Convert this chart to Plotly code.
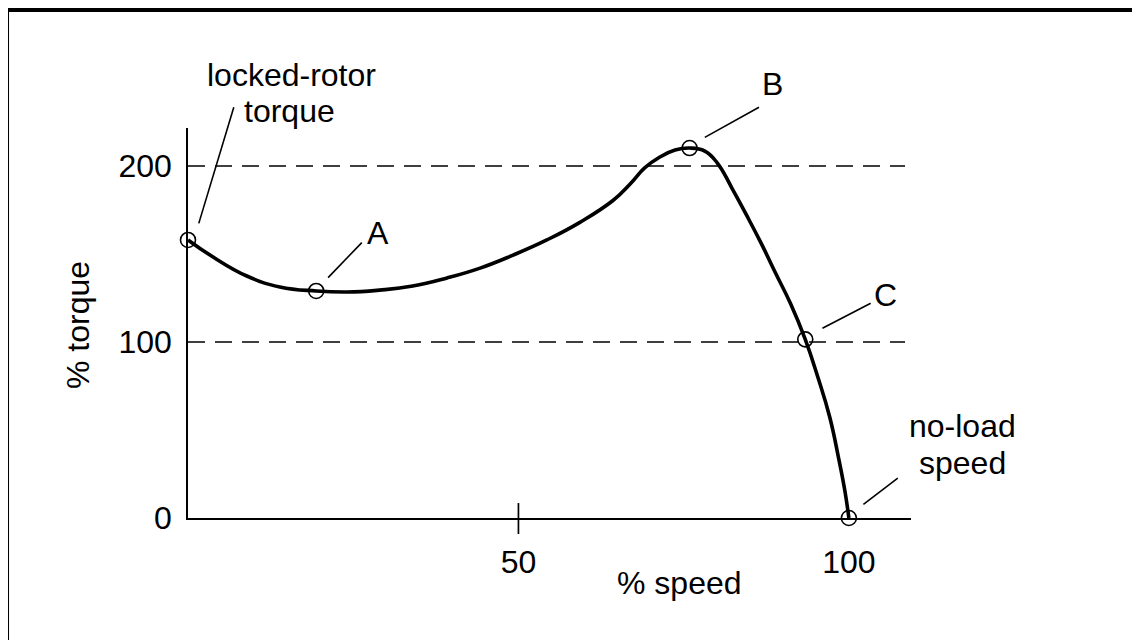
import plotly.graph_objects as go

# ---- data ----
speed = [0, 3.8, 8.9, 13.9, 19.4, 24.1, 29.0, 34.0, 39.2, 44.2, 49.2, 54.3, 59.3,
         64.3, 66.9, 69.1, 71.4, 73.7, 75.9, 78.2, 80.1, 82.3, 84.5, 86.7, 88.9,
         91.2, 93.4, 95.3, 97.1, 98.5, 99.4, 100]
torque = [158, 148.3, 137.5, 131.3, 129, 128.4, 129.5, 131.8, 136.4, 142, 149.4, 158, 168.0,
          180.4, 189.8, 198.9, 205.1, 209.1, 210.2, 208.5, 201.7, 187.5, 172.2, 156.3, 139.2,
          121.6, 101.5, 80.1, 57.4, 33.0, 15.3, 0]

point_names = ["locked-rotor", "A", "B", "C", "no-load"]
point_speed = [0, 19.4, 75.9, 93.4, 100]
point_torque = [158, 129, 210.2, 101.5, 0]

x_tick_vals = [50, 100]
x_tick_text = ["50", "100"]
y_tick_vals = [0, 100, 200]
y_tick_text = ["0", "100", "200"]
ref_levels = [100, 200]

X_MAX = 109.4
Y_MAX = 221.6
FONT = "Liberation Sans, Arial, Helvetica, sans-serif"
FS = 32

fig = go.Figure()

fig.add_trace(go.Scatter(
    x=speed, y=torque, mode="lines",
    line=dict(color="black", width=3.6, shape="spline", smoothing=1.3),
    hoverinfo="skip"))

fig.add_trace(go.Scatter(
    x=point_speed, y=point_torque, mode="markers", text=point_names,
    marker=dict(symbol="circle-open", size=15, color="black", line=dict(width=1.6, color="black")),
    cliponaxis=False))

# dashed reference lines
for lv in ref_levels:
    fig.add_shape(type="line", xref="x", yref="y", x0=0, x1=108.5, y0=lv, y1=lv,
                  line=dict(color="black", width=1.7, dash="17px,10px"), layer="below")


def px(v):
    return v / X_MAX


def py(v):
    return v / Y_MAX


# crossing tick mark at 50 %
fig.add_shape(type="line", xref="x", yref="paper", x0=50, x1=50, y0=py(-9.1), y1=py(8.5),
              line=dict(color="black", width=1.7))

# leader lines (data x, paper y so they are not clipped at the top)
leaders = [
    ((1.63, 167.4), (6.93, 233.4)),
    ((21.2, 136.6), (26.3, 156.5)),
    ((78.2, 216.3), (86.4, 233.4)),
    ((96.0, 107.8), (103.3, 122.0)),
    ((102.2, 7.8), (107.4, 22.6)),
]
for (xa, ya), (xb, yb) in leaders:
    fig.add_shape(type="line", xref="x", yref="paper", x0=xa, x1=xb, y0=py(ya), y1=py(yb),
                  line=dict(color="black", width=1.6))

labels = [
    ("locked-rotor", 15.7, 251.5),
    ("torque", 15.4, 231.0),
    ("A", 28.7, 161.8),
    ("B", 88.5, 246.4),
    ("C", 105.6, 126.5),
    ("no-load", 117.2, 52.5),
    ("speed", 117.2, 31.5),
]
for txt, lx, ly in labels:
    fig.add_annotation(x=px(lx), y=py(ly), xref="paper", yref="paper", text=txt, showarrow=False,
                       xanchor="center", yanchor="middle",
                       font=dict(size=FS, family=FONT, color="black"))

# axis titles
fig.add_annotation(x=0.68, y=-0.167, xref="paper", yref="paper", text="% speed", showarrow=False,
                   xanchor="center", yanchor="middle", font=dict(size=FS, family=FONT, color="black"))
fig.add_annotation(x=-0.152, y=0.495, xref="paper", yref="paper", text="% torque", showarrow=False,
                   textangle=-90, xanchor="center", yanchor="middle",
                   font=dict(size=FS, family=FONT, color="black"))

# outer frame (cropped on right and bottom)
fig.add_shape(type="path", xref="paper", yref="paper",
              path="M -0.2503,-0.6 L -0.2503,1.3026 L 1.5,1.3026",
              line=dict(color="black", width=4))

fig.update_xaxes(range=[0, X_MAX], showline=True, linecolor="black", linewidth=1.6,
                 showgrid=False, zeroline=False, tickvals=x_tick_vals, ticktext=x_tick_text,
                 ticks="", ticklabelstandoff=15, tickfont=dict(size=FS, family=FONT, color="black"))
fig.update_yaxes(range=[0, Y_MAX], showline=True, linecolor="black", linewidth=1.6,
                 showgrid=False, zeroline=False, tickvals=y_tick_vals, ticktext=y_tick_text,
                 ticks="", ticklabelstandoff=8, tickfont=dict(size=FS, family=FONT, color="black"))

fig.update_layout(width=1132, height=632, margin=dict(l=180, r=229, t=120, b=122),
                  plot_bgcolor="white", paper_bgcolor="white", showlegend=False,
                  font=dict(family=FONT, size=FS, color="black"))

fig.write_html("out.html")
